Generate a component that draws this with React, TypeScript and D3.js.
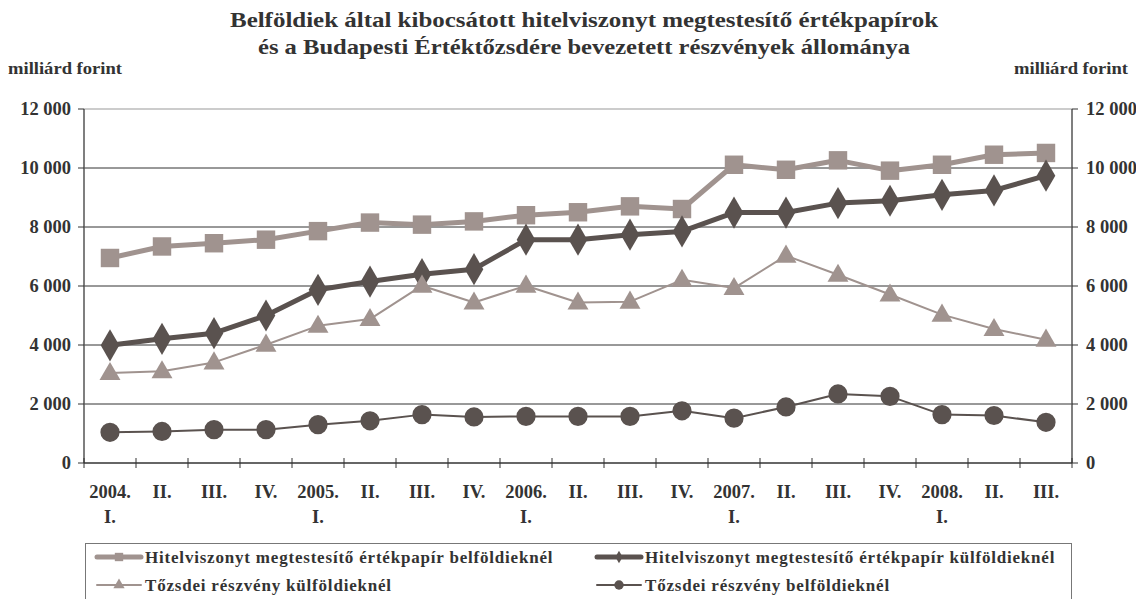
import * as d3 from 'd3'

const categories = [
  ['2004.', 'I.'], ['II.'], ['III.'], ['IV.'],
  ['2005.', 'I.'], ['II.'], ['III.'], ['IV.'],
  ['2006.', 'I.'], ['II.'], ['III.'], ['IV.'],
  ['2007.', 'I.'], ['II.'], ['III.'], ['IV.'],
  ['2008.', 'I.'], ['II.'], ['III.'],
]

const hitelBelfold = [6950, 7340, 7450, 7570, 7860, 8150, 8080, 8190, 8400, 8500, 8700, 8610, 10110, 9940, 10260, 9910, 10110, 10450, 10510]
const hitelKulfold = [3990, 4210, 4400, 5000, 5870, 6150, 6400, 6570, 7570, 7570, 7740, 7850, 8490, 8490, 8810, 8890, 9090, 9240, 9740]
const reszvenyKulfold = [3050, 3110, 3410, 4010, 4650, 4880, 6010, 5440, 6010, 5440, 5470, 6210, 5930, 7030, 6380, 5710, 5030, 4540, 4180]
const reszvenyBelfold = [1040, 1070, 1130, 1130, 1300, 1430, 1640, 1560, 1580, 1580, 1580, 1770, 1520, 1900, 2340, 2260, 1640, 1610, 1380]

const yTicks = [0, 2000, 4000, 6000, 8000, 10000, 12000]

const titleLines = [
  'Belföldiek által kibocsátott hitelviszonyt megtestesítő értékpapírok',
  'és a Budapesti Értéktőzsdére bevezetett részvények állománya',
]

const LIGHT = '#a0938f'
const DARK = '#5a524f'
const TEXT = '#333'
const FONT = "'Liberation Serif', 'Times New Roman', serif"

type Marker = 'square' | 'diamond' | 'triangle' | 'circle'

const series: { name: string; values: number[]; color: string; width: number; marker: Marker }[] = [
  { name: 'Hitelviszonyt megtestesítő értékpapír belföldieknél', values: hitelBelfold, color: LIGHT, width: 5, marker: 'square' },
  { name: 'Hitelviszonyt megtestesítő értékpapír külföldieknél', values: hitelKulfold, color: DARK, width: 5, marker: 'diamond' },
  { name: 'Tőzsdei részvény külföldieknél', values: reszvenyKulfold, color: LIGHT, width: 2, marker: 'triangle' },
  { name: 'Tőzsdei részvény belföldieknél', values: reszvenyBelfold, color: DARK, width: 2, marker: 'circle' },
]

const symbolType = {
  square: d3.symbolSquare,
  diamond: d3.symbolDiamond,
  triangle: d3.symbolTriangle,
  circle: d3.symbolCircle,
}
const symbolSize = { square: 340, diamond: 300, triangle: 190, circle: 290 }
const legendSize = { square: 70, diamond: 45, triangle: 55, circle: 70 }

const txt = { fontFamily: FONT, fontWeight: 'bold' as const, fill: TEXT }

export default function App() {
  const width = 1136
  const height = 599
  const margin = { left: 84, right: 1072, top: 109, bottom: 463 }

  const x = d3.scaleBand<number>()
    .domain(d3.range(categories.length))
    .range([margin.left, margin.right])
  const y = d3.scaleLinear().domain([0, 12000]).range([margin.bottom, margin.top])

  const line = d3.line<number>()
    .x((_, i) => x(i)! + x.bandwidth() / 2)
    .y(d => y(d))

  const fmt = (t: number) => d3.format(',')(t).replace(/,/g, ' ')

  const legendPos = [
    { x: 97, y: 557 },
    { x: 597, y: 557 },
    { x: 97, y: 585 },
    { x: 597, y: 585 },
  ]

  return (
    <svg width={width} height={height} style={{ position: 'absolute', left: 0, top: 0 }}>
      <rect width={width} height={height} fill="#fff" />

      <text x={584} y={27} textAnchor="middle" fontSize={22} style={txt} textLength={708} lengthAdjust="spacingAndGlyphs">{titleLines[0]}</text>
      <text x={584} y={54} textAnchor="middle" fontSize={22} style={txt} textLength={652} lengthAdjust="spacingAndGlyphs">{titleLines[1]}</text>
      <text x={8} y={74} fontSize={17} style={txt} textLength={114} lengthAdjust="spacingAndGlyphs">milliárd forint</text>
      <text x={1014} y={74} fontSize={17} style={txt} textLength={114} lengthAdjust="spacingAndGlyphs">milliárd forint</text>

      {/* grid */}
      {yTicks.filter(t => t > 0 && t < 12000).map(t => (
        <line key={t} x1={margin.left} x2={margin.right} y1={y(t)} y2={y(t)} stroke="#333" strokeWidth={1} />
      ))}
      <line x1={margin.left} x2={margin.right} y1={y(12000)} y2={y(12000)} stroke="#999" strokeWidth={1} />

      {/* left axis */}
      <line x1={margin.left} x2={margin.left} y1={margin.top} y2={margin.bottom} stroke="#555" strokeWidth={1.5} />
      {yTicks.map(t => (
        <g key={t}>
          <line x1={margin.left - 6} x2={margin.left} y1={y(t)} y2={y(t)} stroke="#333" />
          <text x={margin.left - 13} y={y(t)} dy="0.35em" textAnchor="end" fontSize={18.5} style={txt}>{fmt(t)}</text>
        </g>
      ))}

      {/* right axis */}
      <line x1={margin.right} x2={margin.right} y1={margin.top} y2={margin.bottom} stroke="#555" strokeWidth={1.5} />
      {yTicks.map(t => (
        <g key={t}>
          <line x1={margin.right} x2={margin.right + 6} y1={y(t)} y2={y(t)} stroke="#333" />
          <text x={margin.right + 14} y={y(t)} dy="0.35em" textAnchor="start" fontSize={18.5} style={txt}>{fmt(t)}</text>
        </g>
      ))}

      {/* x axis */}
      <line x1={margin.left} x2={margin.right} y1={y(0)} y2={y(0)} stroke="#333" strokeWidth={1.5} />
      {d3.range(categories.length + 1).map(i => {
        const tx = margin.left + i * x.step()
        return <line key={i} x1={tx} x2={tx} y1={y(0) - 5} y2={y(0) + 5} stroke="#333" />
      })}
      {categories.map((c, i) => (
        <g key={i}>
          {c.map((l, j) => (
            <text key={j} x={x(i)! + x.bandwidth() / 2} y={498 + j * 25} textAnchor="middle" fontSize={18.5} style={txt}>{l}</text>
          ))}
        </g>
      ))}

      {/* series */}
      {series.map(s => (
        <g key={s.name}>
          <path d={line(s.values)!} fill="none" stroke={s.color} strokeWidth={s.width} strokeLinejoin="round" />
          {s.values.map((v, i) => (
            <path key={i}
              transform={`translate(${x(i)! + x.bandwidth() / 2},${y(v) + (s.marker === 'triangle' ? 1 : 0)})`}
              d={d3.symbol().type(symbolType[s.marker]).size(symbolSize[s.marker])()!}
              fill={s.color} />
          ))}
        </g>
      ))}

      {/* legend */}
      <rect x={85.5} y={543.5} width={986} height={70} fill="none" stroke="#777" strokeWidth={1} />
      {series.map((s, i) => {
        const p = legendPos[i]
        return (
          <g key={s.name} transform={`translate(${p.x},${p.y})`}>
            <line x1={0} x2={44} y1={0} y2={0} stroke={s.color} strokeWidth={s.width} strokeLinecap="round" />
            <path transform="translate(22,0)" d={d3.symbol().type(symbolType[s.marker]).size(legendSize[s.marker])()!} fill={s.color} />
            <text x={48} y={0} dy="0.35em" fontSize={17} letterSpacing={0.8} style={txt}>{s.name}</text>
          </g>
        )
      })}
    </svg>
  )
}
